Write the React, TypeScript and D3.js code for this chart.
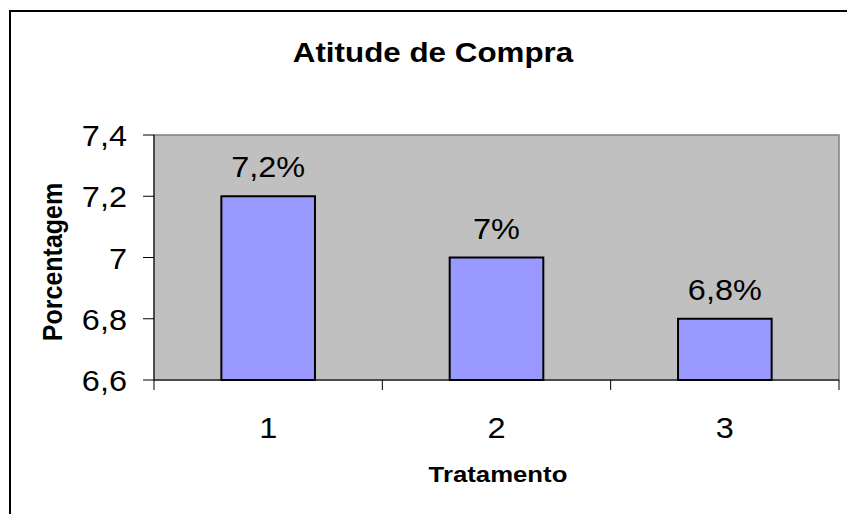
import React from 'react';
import * as d3 from 'd3';

const categories = ['1', '2', '3'];
const values = [7.2, 7.0, 6.8];
const barLabels = ['7,2%', '7%', '6,8%'];
const yTicks = [6.6, 6.8, 7.0, 7.2, 7.4];
const yTickLabels = ['6,6', '6,8', '7', '7,2', '7,4'];

const W = 847;
const H = 514;
// the picture is a bit wider than tall, text is stretched horizontally
const SX = 1.12;
const FONT = '"Liberation Sans", Arial, sans-serif';

const plot = { left: 154, right: 839, top: 135, bottom: 380 };

const Txt = ({ x, y, size, bold, anchor = 'middle', rotate = 0, spacing = 0, children }: any) => (
  <text
    transform={`translate(${x},${y}) scale(${SX},1) rotate(${rotate})`}
    fontFamily={FONT}
    fontSize={size}
    fontWeight={bold ? 'bold' : 'normal'}
    textAnchor={anchor}
    letterSpacing={spacing}
    fill="#000"
  >
    {children}
  </text>
);

export default function App() {
  const x = d3.scaleBand<string>()
    .domain(categories)
    .range([plot.left, plot.right])
    .paddingInner(0.59)
    .paddingOuter(0.295);
  const step = (plot.right - plot.left) / categories.length;

  const y = d3.scaleLinear()
    .domain([6.6, 7.4])
    .range([plot.bottom, plot.top]);

  const bandCenter = (c: string) => (x(c) || 0) + x.bandwidth() / 2;

  return (
    <svg width={W} height={H} style={{ position: 'absolute', left: 0, top: 0 }}>
      <rect x={0} y={0} width={W} height={H} fill="#fff" />
      {/* chart frame, runs off the right and bottom edges */}
      <rect x={10} y={11} width={860} height={530} fill="none" stroke="#000" strokeWidth={2} />

      <Txt x={433} y={62} size={28} bold>Atitude de Compra</Txt>

      {/* plot area */}
      <rect
        x={plot.left}
        y={plot.top}
        width={plot.right - plot.left}
        height={plot.bottom - plot.top}
        fill="#C0C0C0"
        stroke="#808080"
        strokeWidth={1.5}
      />

      {/* bars */}
      {values.map((v, i) => (
        <g key={categories[i]}>
          <rect
            x={x(categories[i])}
            y={y(v)}
            width={x.bandwidth()}
            height={y(6.6) - y(v)}
            fill="#9999FF"
            stroke="#000"
            strokeWidth={2}
          />
          <Txt x={bandCenter(categories[i])} y={y(v) - 19} size={29}>{barLabels[i]}</Txt>
        </g>
      ))}

      {/* y axis */}
      <line x1={plot.left} x2={plot.left} y1={plot.top} y2={plot.bottom} stroke="#000" strokeWidth={1} />
      {yTicks.map((t, i) => (
        <g key={t}>
          <line x1={plot.left - 11} x2={plot.left} y1={y(t)} y2={y(t)} stroke="#000" strokeWidth={1} />
          <Txt x={127} y={y(t) + 11} size={29} anchor="end">{yTickLabels[i]}</Txt>
        </g>
      ))}

      {/* x axis */}
      <line x1={plot.left} x2={plot.right} y1={plot.bottom} y2={plot.bottom} stroke="#000" strokeWidth={1} />
      {d3.range(categories.length + 1).map(i => (
        <line
          key={i}
          x1={plot.left + i * step}
          x2={plot.left + i * step}
          y1={plot.bottom}
          y2={plot.bottom + 10}
          stroke="#000"
          strokeWidth={1}
        />
      ))}
      {categories.map(c => (
        <Txt key={c} x={bandCenter(c)} y={438} size={29}>{c}</Txt>
      ))}

      <Txt x={498} y={482} size={23} bold>Tratamento</Txt>
      <Txt x={62} y={262} size={25} bold rotate={-90}>Porcentagem</Txt>
    </svg>
  );
}
